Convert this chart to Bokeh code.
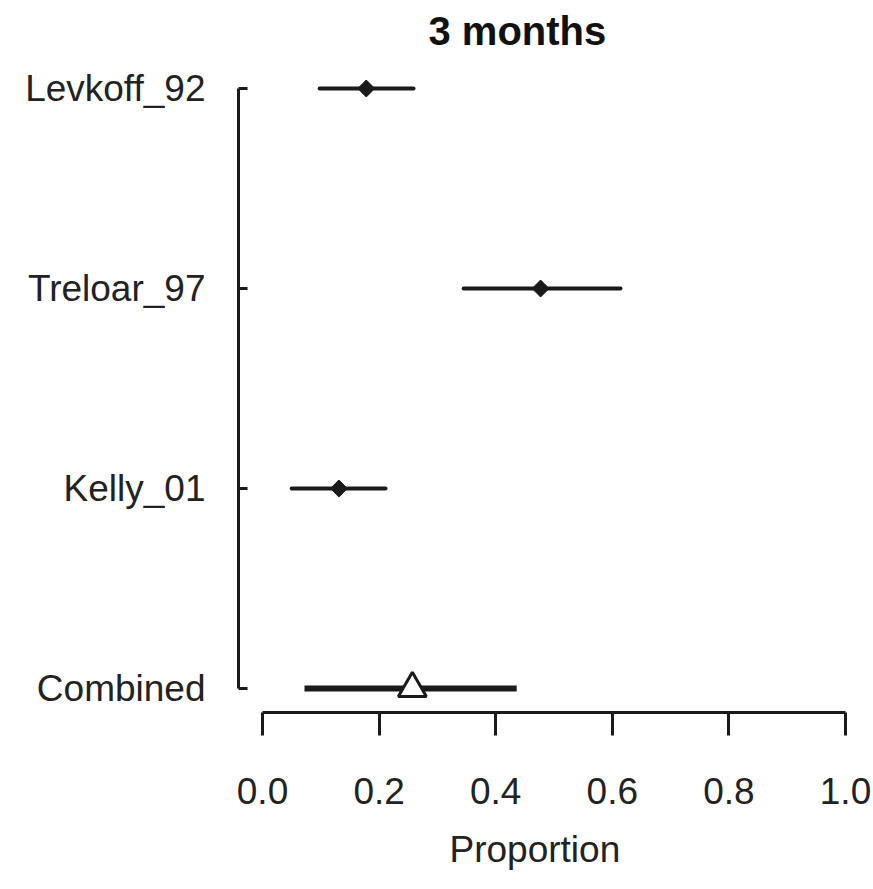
from bokeh.plotting import figure
from bokeh.models import Range1d, FixedTicker, Title, ColumnDataSource
from bokeh.embed import file_html
from bokeh.resources import INLINE
import math

# ---- data ----
studies = ["Levkoff_92", "Treloar_97", "Kelly_01"]
study_pos = [3, 2, 1]
study_est = [0.178, 0.477, 0.131]
study_lo = [0.098, 0.345, 0.050]
study_hi = [0.259, 0.614, 0.211]

combined_label = "Combined"
combined_pos = [0]
combined_est = [0.257]
combined_lo = [0.072]
combined_hi = [0.436]

x_ticks = [0.0, 0.2, 0.4, 0.6, 0.8, 1.0]
x_tick_labels = ["0.0", "0.2", "0.4", "0.6", "0.8", "1.0"]
title_text = "3 months"
xlabel_text = "Proportion"

INK = "#1a1a1a"
FONT = "Liberation Sans"

p = figure(width=873, height=889, output_backend="svg", toolbar_location=None,
           x_range=Range1d(-0.0412, 1.0223), y_range=Range1d(-0.120, 3.145),
           min_border_left=238, min_border_right=15, min_border_top=0,
           min_border_bottom=177)
p.outline_line_color = None
p.grid.visible = False
p.background_fill_color = "white"
p.border_fill_color = "white"

study_src = ColumnDataSource(dict(y=study_pos, est=study_est, lo=study_lo, hi=study_hi))
comb_src = ColumnDataSource(dict(y=combined_pos, est=combined_est, lo=combined_lo, hi=combined_hi))

p.segment(x0="lo", x1="hi", y0="y", y1="y", source=study_src,
          line_color=INK, line_width=4, line_cap="round")
p.scatter(x="est", y="y", source=study_src, marker="square", size=12,
          angle=math.pi / 4, fill_color=INK, line_color=INK)

p.segment(x0="lo", x1="hi", y0="y", y1="y", source=comb_src,
          line_color=INK, line_width=6)
p.scatter(x="est", y="y", source=comb_src, marker="triangle", size=28,
          fill_color="white", line_color=INK, line_width=3)

# x axis
xa = p.xaxis[0]
xa.ticker = FixedTicker(ticks=x_ticks)
xa.major_label_overrides = {t: l for t, l in zip(x_ticks, x_tick_labels)}
xa.bounds = (x_ticks[0], x_ticks[-1])
xa.minor_tick_line_color = None
xa.major_tick_out = 23
xa.major_tick_in = 0
xa.major_tick_line_width = 3
xa.major_tick_line_color = INK
xa.axis_line_width = 3
xa.axis_line_color = INK
xa.major_label_text_font = FONT
xa.major_label_text_font_size = "37px"
xa.major_label_text_color = "#222222"
xa.major_label_standoff = 42

# y axis
ya = p.yaxis[0]
all_pos = study_pos + combined_pos
all_labels = studies + [combined_label]
ya.ticker = FixedTicker(ticks=all_pos)
ya.major_label_overrides = {t: l for t, l in zip(all_pos, all_labels)}
ya.bounds = (min(all_pos), max(all_pos))
ya.minor_tick_line_color = None
ya.major_tick_in = 9
ya.major_tick_out = 0
ya.major_tick_line_width = 3
ya.major_tick_line_color = INK
ya.axis_line_width = 3
ya.axis_line_color = INK
ya.major_label_text_font = FONT
ya.major_label_text_font_size = "37px"
ya.major_label_text_color = "#222222"
ya.major_label_standoff = 33

p.add_layout(Title(text=title_text, align="left", offset=190,
                   text_font=FONT, text_font_style="bold",
                   text_font_size="40px", text_color="#111111", standoff=13), "above")
p.add_layout(Title(text=xlabel_text, align="left", offset=211,
                   text_font=FONT, text_font_style="normal",
                   text_font_size="37px", text_color="#222222", standoff=40,
                   text_line_height=0.6), "below")

open("out.html", "w").write(file_html(p, INLINE))
